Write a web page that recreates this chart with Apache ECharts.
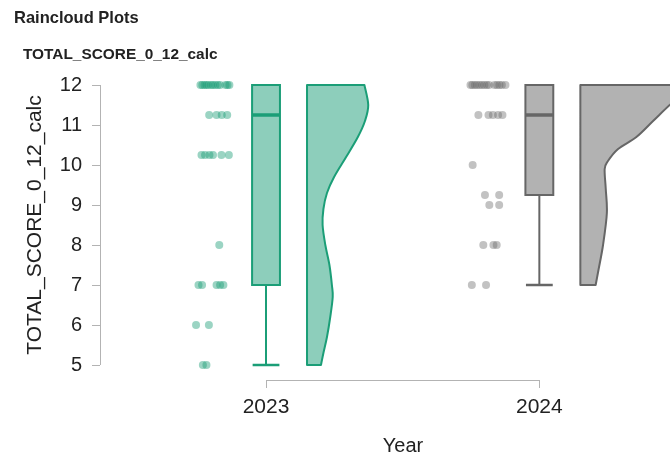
<!DOCTYPE html>
<html>
<head>
<meta charset="utf-8">
<script src="https://cdn.jsdelivr.net/npm/echarts@6/dist/echarts.min.js"></script>
<style>
  html, body { margin: 0; padding: 0; background: #ffffff; }
  #chart { width: 670px; height: 457px; }
</style>
</head>
<body>
<div id="chart"></div>
<script>
// Groups on the x axis and the score ticks
const years = ['2023', '2024'];
const yTicks = [5, 6, 7, 8, 9, 10, 11, 12];

// Individual scores per year, with the horizontal jitter used for the rain points
const scores2023 = [12, 12, 12, 12, 12, 12, 12, 12, 12, 12, 12, 12, 12,
  11.25, 11.25, 11.25, 11.25,
  10.25, 10.25, 10.25, 10.25, 10.25, 10.25,
  8,
  7, 7, 7, 7, 7,
  6, 6,
  5, 5];
const jitter2023 = [-0.240, -0.233, -0.225, -0.218, -0.211, -0.201, -0.194, -0.185, -0.176, -0.168, -0.148, -0.141, -0.134,
  -0.208, -0.181, -0.162, -0.142,
  -0.236, -0.223, -0.207, -0.194, -0.163, -0.136,
  -0.171,
  -0.247, -0.234, -0.181, -0.168, -0.156,
  -0.256, -0.209,
  -0.231, -0.218];

const scores2024 = [12, 12, 12, 12, 12, 12, 12, 12, 12, 12, 12, 12, 12, 12,
  11.25, 11.25, 11.25, 11.25, 11.25,
  10,
  9.25, 9.25,
  9, 9,
  8, 8, 8,
  7, 7];
const jitter2024 = [-0.252, -0.245, -0.236, -0.228, -0.219, -0.210, -0.201, -0.192, -0.184, -0.164, -0.155, -0.146, -0.137, -0.124,
  -0.223, -0.186, -0.170, -0.151, -0.135,
  -0.244,
  -0.199, -0.147,
  -0.183, -0.147,
  -0.205, -0.168, -0.156,
  -0.247, -0.195];

// Half-violin density outlines: score levels and the density width at each level
const densityY2023 = [5, 5.3, 5.7, 6.2, 6.7, 7.0, 7.5, 8.0, 8.5, 8.9, 9.3, 9.7, 10.2, 10.7, 11.1, 11.5, 12];
const densityW2023 = [0.051, 0.060, 0.073, 0.085, 0.094, 0.091, 0.082, 0.067, 0.057, 0.060, 0.073, 0.099, 0.143, 0.186, 0.212, 0.224, 0.210];
const densityY2024 = [7, 7.4, 8, 8.8, 9.4, 9.9, 10.1, 10.4, 10.7, 11.1, 11.5, 11.75, 12];
const densityW2024 = [0.056, 0.067, 0.083, 0.097, 0.093, 0.089, 0.101, 0.138, 0.205, 0.266, 0.327, 0.370, 0.400];

const FONT = "'Liberation Sans', Arial, sans-serif";
const groups = [
  { scores: scores2023, jitter: jitter2023, dy: densityY2023, dw: densityW2023,
    stroke: '#1b9e77', fill: 'rgba(27,158,119,0.5)', point: 'rgba(27,158,119,0.55)' },
  { scores: scores2024, jitter: jitter2024, dy: densityY2024, dw: densityW2024,
    stroke: '#666666', fill: 'rgba(102,102,102,0.5)', point: 'rgba(102,102,102,0.5)' }
];

// R-style (type 7) quantile
function quantile(sorted, p) {
  const h = (sorted.length - 1) * p;
  const lo = Math.floor(h), hi = Math.ceil(h);
  return sorted[lo] + (h - lo) * (sorted[hi] - sorted[lo]);
}
function boxStats(values) {
  const s = values.slice().sort((a, b) => a - b);
  const q1 = quantile(s, 0.25), med = quantile(s, 0.5), q3 = quantile(s, 0.75);
  const iqr = q3 - q1;
  const lo = s.find(v => v >= q1 - 1.5 * iqr);
  const hi = s.slice().reverse().find(v => v <= q3 + 1.5 * iqr);
  return [lo, q1, med, q3, hi];
}

const X_MIN = -0.6074, X_MAX = 1.478;
const Y_MIN = 4.625, Y_MAX = 12;
const BOX_HALF = 0.051, CAP_HALF = 0.049, VIOLIN_OFFSET = 0.15;

function violinPath(api, cat, ys, ws) {
  const pts = ys.map((y, k) => api.coord([cat + VIOLIN_OFFSET + ws[k], y]));
  const b = api.coord([cat + VIOLIN_OFFSET, ys[0]]);
  const t = api.coord([cat + VIOLIN_OFFSET, ys[ys.length - 1]]);
  let d = 'M' + b[0] + ',' + b[1] + ' L' + pts[0][0] + ',' + pts[0][1];
  for (let k = 0; k < pts.length - 1; k++) {
    const p0 = pts[k - 1] || pts[k], p1 = pts[k], p2 = pts[k + 1], p3 = pts[k + 2] || pts[k + 1];
    const c1 = [p1[0] + (p2[0] - p0[0]) / 6, p1[1] + (p2[1] - p0[1]) / 6];
    const c2 = [p2[0] - (p3[0] - p1[0]) / 6, p2[1] - (p3[1] - p1[1]) / 6];
    d += ' C' + c1[0] + ',' + c1[1] + ' ' + c2[0] + ',' + c2[1] + ' ' + p2[0] + ',' + p2[1];
  }
  d += ' L' + t[0] + ',' + t[1] + ' Z';
  return d;
}

const series = [];

// Cloud: half violins
series.push({
  type: 'custom',
  data: years.map((y, i) => [i]),
  clip: false,
  renderItem: function (params, api) {
    const i = params.dataIndex, g = groups[i];
    return {
      type: 'path',
      shape: { pathData: violinPath(api, i, g.dy, g.dw) },
      style: { fill: g.fill, stroke: g.stroke, lineWidth: 2, lineJoin: 'round' }
    };
  },
  z: 2
});

// Box plots
series.push({
  type: 'custom',
  data: groups.map((g, i) => [i].concat(boxStats(g.scores))),
  clip: false,
  renderItem: function (params, api) {
    const i = params.dataIndex, g = groups[i];
    const lo = api.value(1), q1 = api.value(2), med = api.value(3), q3 = api.value(4), hi = api.value(5);
    const tl = api.coord([i - BOX_HALF, q3]);
    const br = api.coord([i + BOX_HALF, q1]);
    const mL = api.coord([i - BOX_HALF, med]), mR = api.coord([i + BOX_HALF, med]);
    const c = api.coord([i, lo]);
    const cq1 = api.coord([i, q1]);
    const cq3 = api.coord([i, q3]);
    const ch = api.coord([i, hi]);
    const capL = api.coord([i - CAP_HALF, lo]), capR = api.coord([i + CAP_HALF, lo]);
    const lineStyle = { stroke: g.stroke, lineWidth: 2 };
    const children = [
      { type: 'line', shape: { x1: c[0], y1: c[1], x2: cq1[0], y2: cq1[1] }, style: lineStyle },
      { type: 'line', shape: { x1: capL[0], y1: capL[1], x2: capR[0], y2: capR[1] }, style: { stroke: g.stroke, lineWidth: 2.5 } },
      { type: 'rect', shape: { x: tl[0], y: tl[1], width: br[0] - tl[0], height: br[1] - tl[1] },
        style: { fill: g.fill, stroke: g.stroke, lineWidth: 2 } },
      { type: 'line', shape: { x1: mL[0], y1: mL[1], x2: mR[0], y2: mR[1] }, style: { stroke: g.stroke, lineWidth: 3.5 } }
    ];
    if (hi > q3) {
      children.push({ type: 'line', shape: { x1: cq3[0], y1: cq3[1], x2: ch[0], y2: ch[1] }, style: lineStyle });
    }
    return { type: 'group', children: children };
  },
  z: 3
});

// Rain: jittered raw scores
groups.forEach((g, i) => {
  series.push({
    type: 'scatter',
    data: g.scores.map((s, k) => [i + g.jitter[k], s]),
    symbolSize: 8,
    itemStyle: { color: g.point, borderWidth: 0 },
    clip: false,
    z: 4
  });
});

// Axis lines spanning the first to last tick only
series.push({
  type: 'custom',
  data: [[0]],
  clip: false,
  silent: true,
  renderItem: function (params, api) {
    const yb = api.coord([X_MIN, yTicks[0]]);
    const yt = api.coord([X_MIN, yTicks[yTicks.length - 1]]);
    const xl = api.coord([0, Y_MIN]);
    const xr = api.coord([years.length - 1, Y_MIN]);
    const st = { stroke: '#b3b3b3', lineWidth: 1 };
    return {
      type: 'group',
      children: [
        { type: 'line', shape: { x1: Math.round(yb[0]) + 0.5, y1: yb[1], x2: Math.round(yt[0]) + 0.5, y2: yt[1] }, style: st },
        { type: 'line', shape: { x1: xl[0], y1: Math.round(xl[1]) + 0.5, x2: xr[0], y2: Math.round(xr[1]) + 0.5 }, style: st }
      ]
    };
  },
  z: 1
});

const chart = echarts.init(document.getElementById('chart'), null, { renderer: 'canvas' });
chart.setOption({
  animation: false,
  backgroundColor: '#ffffff',
  title: [
    { text: 'Raincloud Plots', left: 14, top: 10, padding: 0,
      textStyle: { fontSize: 16.5, fontWeight: 'bold', color: '#222222', fontFamily: FONT } },
    { text: 'TOTAL_SCORE_0_12_calc', left: 23, top: 47, padding: 0,
      textStyle: { fontSize: 15.4, fontWeight: 'bold', color: '#222222', fontFamily: FONT } }
  ],
  grid: { left: 100, right: 0, top: 85, bottom: 77, containLabel: false },
  xAxis: {
    type: 'value',
    min: X_MIN,
    max: X_MAX,
    axisLine: { show: false, onZero: false },
    splitLine: { show: false },
    axisTick: { show: true, customValues: years.map((y, i) => i), length: 8, inside: false,
      lineStyle: { color: '#b3b3b3', width: 1 } },
    axisLabel: { customValues: years.map((y, i) => i), formatter: v => years[Math.round(v)],
      fontSize: 21, color: '#222222', fontFamily: FONT, margin: 17 }
  },
  yAxis: {
    type: 'value',
    min: Y_MIN,
    max: Y_MAX,
    axisLine: { show: false, onZero: false },
    splitLine: { show: false },
    axisTick: { show: true, customValues: yTicks, length: 8, inside: false,
      lineStyle: { color: '#b3b3b3', width: 1 } },
    axisLabel: { customValues: yTicks, fontSize: 20, color: '#222222', fontFamily: FONT, margin: 18 }
  },
  graphic: [
    { type: 'text', x: 403, y: 446,
      style: { text: 'Year', fontSize: 20, fill: '#222222', fontFamily: FONT, textAlign: 'center', textVerticalAlign: 'middle' } },
    { type: 'text', x: 35, y: 225, rotation: Math.PI / 2,
      style: { text: 'TOTAL_SCORE_0_12_calc', fontSize: 21, fill: '#222222', fontFamily: FONT, textAlign: 'center', textVerticalAlign: 'middle' } }
  ],
  series: series
});
</script>
</body>
</html>
